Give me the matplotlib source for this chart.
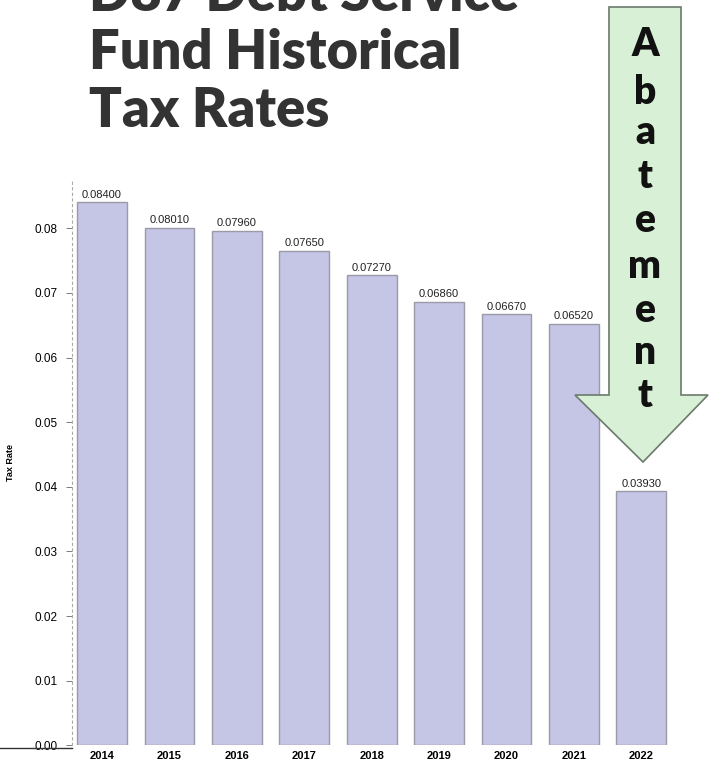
import matplotlib.pyplot as plt
from matplotlib.patches import Polygon

# data
years = ['2014', '2015', '2016', '2017', '2018', '2019', '2020', '2021', '2022']
rates = [0.08400, 0.08010, 0.07960, 0.07650, 0.07270, 0.06860, 0.06670, 0.06520, 0.03930]
y_ticks = [0.00, 0.01, 0.02, 0.03, 0.04, 0.05, 0.06, 0.07, 0.08]

fig = plt.figure(figsize=(7.1, 7.62), dpi=100)
ax = fig.add_axes([0.101, 0.022, 0.845, 0.742])

x = list(range(len(years)))
ax.bar(x, rates, 0.74, color='#c5c5e6', edgecolor='#9a9aa8', linewidth=1.0)

for xi, r in zip(x, rates):
    ax.text(xi, r + 0.0004, '%.5f' % r, ha='center', va='bottom',
            fontsize=8, color='#222222', family='Liberation Sans')

ax.set_xlim(-0.45, 8.45)
ax.set_ylim(0, 0.0875)
ax.set_xticks(x)
ax.set_xticklabels(years, fontsize=8, fontweight='bold', family='Liberation Sans')
ax.set_yticks(y_ticks)
ax.set_yticklabels(['%.2f' % t for t in y_ticks], fontsize=8.5, family='Liberation Sans')
ax.tick_params(axis='x', length=0, pad=4)
ax.tick_params(axis='y', length=4, width=0.6, color='#666666', pad=6)
ax.set_ylabel('Tax Rate', fontsize=6.5, fontweight='bold', family='Liberation Sans', labelpad=14)

for s in ['top', 'right', 'bottom']:
    ax.spines[s].set_visible(False)
ax.spines['left'].set_color('#aaaaaa')
ax.spines['left'].set_linestyle((0, (2, 3)))
ax.spines['left'].set_linewidth(0.8)

# short dark baseline at left edge
fig.add_artist(plt.Line2D([0.0, 0.101], [0.019, 0.019], color='#333333', linewidth=1.0))

# title (top line cut off by the figure edge, as in the reference)
fig.text(0.125, 0.833, 'D87 Debt Service\nFund Historical\nTax Rates', ha='left', va='baseline',
         fontsize=39, fontweight='heavy', color='#333333', family='Lato',
         linespacing=1.2)

# arrow
arrow_px = [(609, 7), (681, 7), (681, 395), (708, 395), (643, 462),
            (575, 395), (609, 395)]
W, H = 710, 762
arrow = Polygon([(px / W, 1 - py / H) for px, py in arrow_px], closed=True,
                facecolor='#d8f0d6', edgecolor='#6c7a6c', linewidth=1.2,
                transform=fig.transFigure)
fig.add_artist(arrow)

letters = 'Abatement'
letter_y = [45, 92, 132, 176, 221, 266, 310, 353, 395]
for ch, ly in zip(letters, letter_y):
    fig.text(645 / W, 1 - ly / H, ch, ha='center', va='center', fontsize=28,
             fontweight='heavy', color='#111111', family='Lato')

fig.savefig('out.png', dpi=100)
